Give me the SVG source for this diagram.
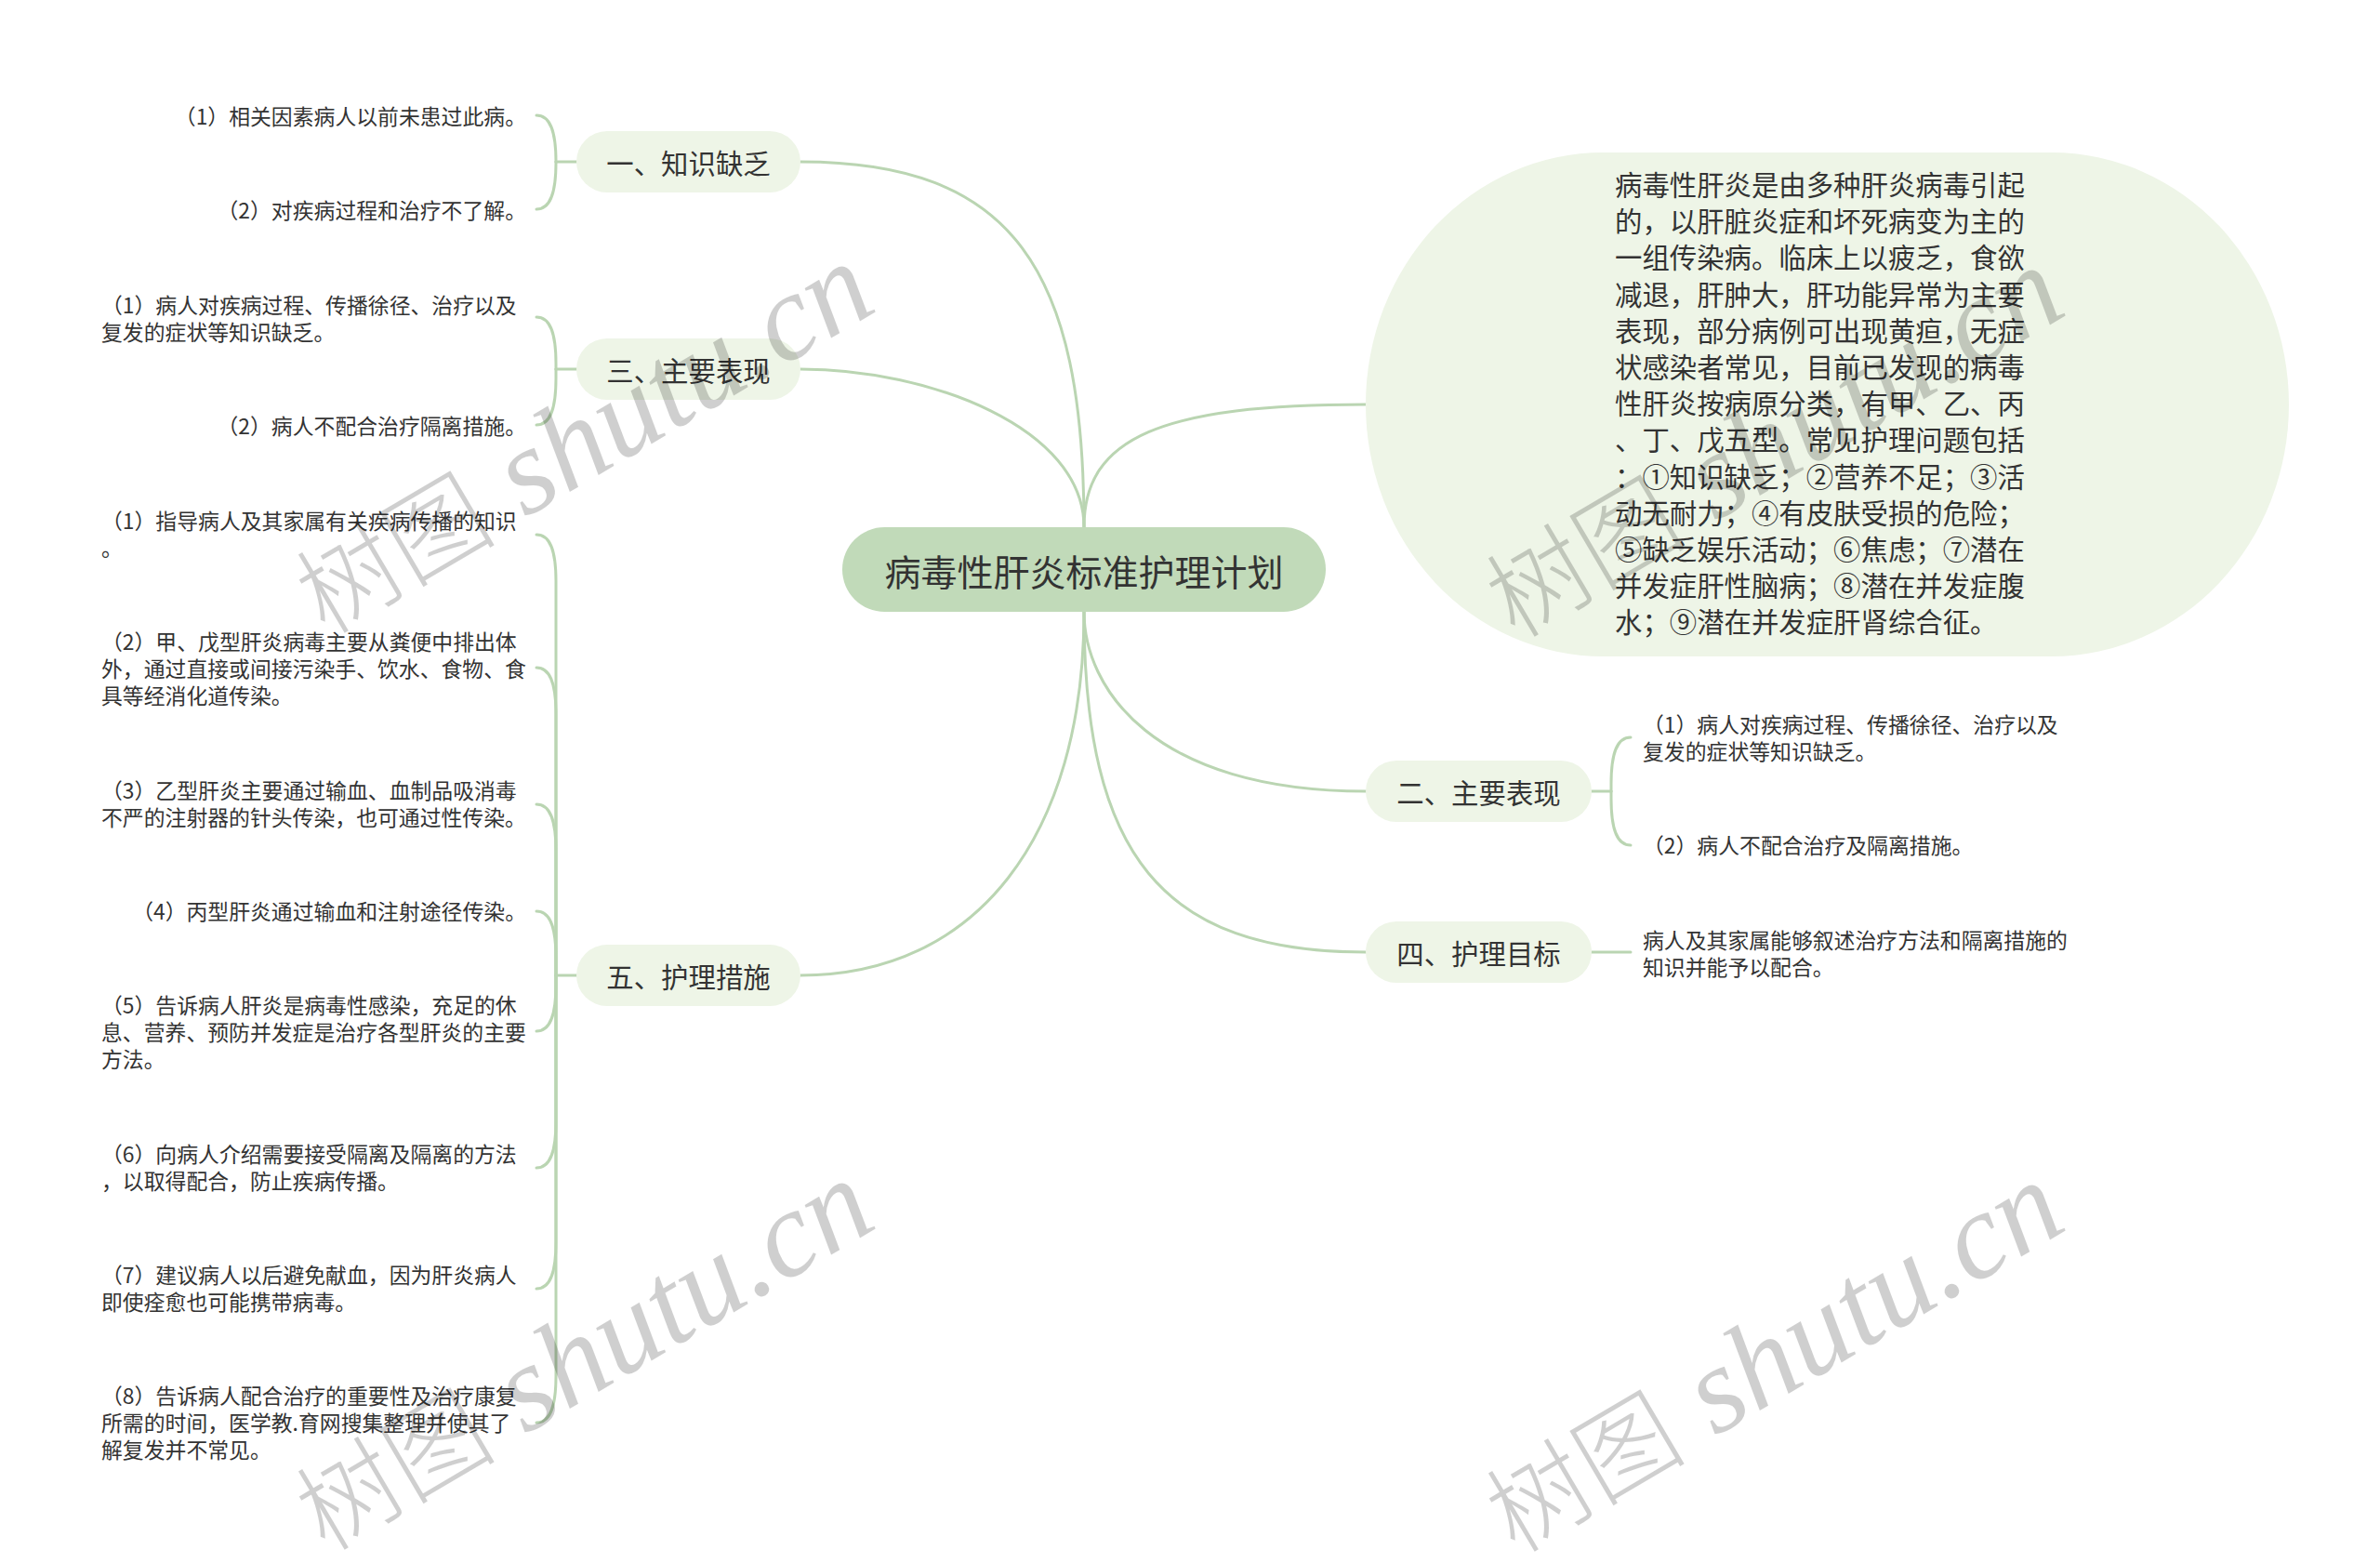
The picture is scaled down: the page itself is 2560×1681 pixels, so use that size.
<svg xmlns="http://www.w3.org/2000/svg" width="2560" height="1681" viewBox="0 0 2560 1681">
<style>
.bg{fill:#ffffff}
.conn path{fill:none;stroke:#bad5b2;stroke-width:3;stroke-linecap:round}
.root rect{fill:#c1dab9}
.l1 rect{fill:#eef5e7}
text{font-family:"Noto Sans CJK SC","Microsoft YaHei",sans-serif;fill:#333333;dominant-baseline:central}
.rt{font-size:39px;text-anchor:middle}
.lt{font-size:29.4px;text-anchor:middle}
.bt{font-size:29.4px}
.it{font-size:22.85px}
.end{text-anchor:end}
.wm text{fill:#000000;fill-opacity:0.19;dominant-baseline:alphabetic}
.wm .cj{font-family:"Noto Sans CJK SC",sans-serif;font-size:108px;font-weight:300}
.wm .en{font-family:"Liberation Serif",serif;font-style:italic;font-size:132px}
</style>
<rect class="bg" x="0" y="0" width="2560" height="1681"/>

<g id="connectors" class="conn">
  <path d="M1166 567 C1166 290 1090 174 861 174"/>
  <path d="M1166 567 C1166 460 1000 397 861 397"/>
  <path d="M1166 658 C1166 900 1050 1049 861 1049"/>
  <path d="M1166 567 C1166 470 1250 435 1469 435"/>
  <path d="M1166 658 C1166 740 1240 851 1469 851"/>
  <path d="M1166 658 C1166 920 1250 1024 1469 1024"/>
  <!-- 一 -->
  <path d="M620 174 L598 174"/>
  <path d="M598 174 C598 139 591 124 577 124"/>
  <path d="M598 174 L598 175 C598 210 591 225 577 225"/>
  <!-- 三 -->
  <path d="M620 397 L598 397"/>
  <path d="M598 397 L598 391 C598 356 591 341 577 341"/>
  <path d="M598 397 L598 407 C598 442 591 457 577 457"/>
  <!-- 五 -->
  <path d="M620 1049 L598 1049"/>
  <path d="M598 1049 L598 625 C598 590 591 575 577 575"/>
  <path d="M598 1049 L598 768 C598 733 591 718 577 718"/>
  <path d="M598 1049 L598 915 C598 880 591 865 577 865"/>
  <path d="M598 1049 L598 1030 C598 995 591 980 577 980"/>
  <path d="M598 1049 L598 1059 C598 1094 591 1109 577 1109"/>
  <path d="M598 1049 L598 1206 C598 1241 591 1256 577 1256"/>
  <path d="M598 1049 L598 1336 C598 1371 591 1386 577 1386"/>
  <path d="M598 1049 L598 1480 C598 1515 591 1530 577 1530"/>
  <!-- 二 -->
  <path d="M1712 851 L1733 851"/>
  <path d="M1733 851 L1733 843 C1733 808 1740 793 1754 793"/>
  <path d="M1733 851 L1733 859 C1733 894 1740 909 1754 909"/>
  <!-- 四 -->
  <path d="M1712 1024 L1754 1024"/>
</g>

<g id="root" class="root">
  <rect x="906" y="567" width="520" height="91" rx="45.5"/>
  <text class="rt" x="1166" y="612.5">病毒性肝炎标准护理计划</text>
</g>

<g id="n-intro" class="l1">
  <rect x="1469" y="164" width="993" height="542" rx="255" ry="271"/>
  <text class="bt">
    <tspan x="1737" y="197">病毒性肝炎是由多种肝炎病毒引起</tspan>
    <tspan x="1737" y="236.2">的，以肝脏炎症和坏死病变为主的</tspan>
    <tspan x="1737" y="275.4">一组传染病。临床上以疲乏，食欲</tspan>
    <tspan x="1737" y="314.6">减退，肝肿大，肝功能异常为主要</tspan>
    <tspan x="1737" y="353.8">表现，部分病例可出现黄疸，无症</tspan>
    <tspan x="1737" y="393">状感染者常见，目前已发现的病毒</tspan>
    <tspan x="1737" y="432.2">性肝炎按病原分类，有甲、乙、丙</tspan>
    <tspan x="1737" y="471.4">、丁、戊五型。常见护理问题包括</tspan>
    <tspan x="1737" y="510.6">：①知识缺乏；②营养不足；③活</tspan>
    <tspan x="1737" y="549.8">动无耐力；④有皮肤受损的危险；</tspan>
    <tspan x="1737" y="589">⑤缺乏娱乐活动；⑥焦虑；⑦潜在</tspan>
    <tspan x="1737" y="628.2">并发症肝性脑病；⑧潜在并发症腹</tspan>
    <tspan x="1737" y="667.4">水；⑨潜在并发症肝肾综合征。</tspan>
  </text>
</g>

<g id="n1" class="l1">
  <rect x="620" y="141" width="241" height="66" rx="33"/>
  <text class="lt" x="740.5" y="174">一、知识缺乏</text>
</g>
<g id="n1-1"><text class="it end" x="566" y="124">（1）相关因素病人以前未患过此病。</text></g>
<g id="n1-2"><text class="it end" x="566" y="225">（2）对疾病过程和治疗不了解。</text></g>

<g id="n3" class="l1">
  <rect x="620" y="364" width="241" height="66" rx="33"/>
  <text class="lt" x="740.5" y="397">三、主要表现</text>
</g>
<g id="n3-1"><text class="it"><tspan x="109" y="327">（1）病人对疾病过程、传播徐径、治疗以及</tspan><tspan x="109" y="356">复发的症状等知识缺乏。</tspan></text></g>
<g id="n3-2"><text class="it end" x="566" y="457">（2）病人不配合治疗隔离措施。</text></g>

<g id="n5" class="l1">
  <rect x="620" y="1016" width="241" height="66" rx="33"/>
  <text class="lt" x="740.5" y="1049">五、护理措施</text>
</g>
<g id="n5-1"><text class="it"><tspan x="109" y="559">（1）指导病人及其家属有关疾病传播的知识</tspan><tspan x="109" y="588">。</tspan></text></g>
<g id="n5-2"><text class="it"><tspan x="109" y="689">（2）甲、戊型肝炎病毒主要从粪便中排出体</tspan><tspan x="109" y="718">外，通过直接或间接污染手、饮水、食物、食</tspan><tspan x="109" y="747">具等经消化道传染。</tspan></text></g>
<g id="n5-3"><text class="it"><tspan x="109" y="849">（3）乙型肝炎主要通过输血、血制品吸消毒</tspan><tspan x="109" y="878">不严的注射器的针头传染，也可通过性传染。</tspan></text></g>
<g id="n5-4"><text class="it end" x="566" y="979">（4）丙型肝炎通过输血和注射途径传染。</text></g>
<g id="n5-5"><text class="it"><tspan x="109" y="1080">（5）告诉病人肝炎是病毒性感染，充足的休</tspan><tspan x="109" y="1109">息、营养、预防并发症是治疗各型肝炎的主要</tspan><tspan x="109" y="1138">方法。</tspan></text></g>
<g id="n5-6"><text class="it"><tspan x="109" y="1240">（6）向病人介绍需要接受隔离及隔离的方法</tspan><tspan x="109" y="1269">，以取得配合，防止疾病传播。</tspan></text></g>
<g id="n5-7"><text class="it"><tspan x="109" y="1370">（7）建议病人以后避免献血，因为肝炎病人</tspan><tspan x="109" y="1399">即使痊愈也可能携带病毒。</tspan></text></g>
<g id="n5-8"><text class="it"><tspan x="109" y="1500">（8）告诉病人配合治疗的重要性及治疗康复</tspan><tspan x="109" y="1529">所需的时间，医学教.育网搜集整理并使其了</tspan><tspan x="109" y="1558">解复发并不常见。</tspan></text></g>

<g id="n2" class="l1">
  <rect x="1469" y="818" width="243" height="66" rx="33"/>
  <text class="lt" x="1590.5" y="851">二、主要表现</text>
</g>
<g id="n2-1"><text class="it"><tspan x="1767" y="778">（1）病人对疾病过程、传播徐径、治疗以及</tspan><tspan x="1767" y="807">复发的症状等知识缺乏。</tspan></text></g>
<g id="n2-2"><text class="it" x="1767" y="908">（2）病人不配合治疗及隔离措施。</text></g>

<g id="n4" class="l1">
  <rect x="1469" y="991" width="243" height="66" rx="33"/>
  <text class="lt" x="1590.5" y="1024">四、护理目标</text>
</g>
<g id="n4-1"><text class="it"><tspan x="1767" y="1010">病人及其家属能够叙述治疗方法和隔离措施的</tspan><tspan x="1767" y="1039">知识并能予以配合。</tspan></text></g>

<g id="watermarks" class="wm">
  <text transform="translate(350,684) rotate(-30.5)"><tspan class="cj">树图</tspan><tspan class="en"> shutu.cn</tspan></text>
  <text transform="translate(350,1670) rotate(-30.5)"><tspan class="cj">树图</tspan><tspan class="en"> shutu.cn</tspan></text>
  <text transform="translate(1630,688) rotate(-30.5)"><tspan class="cj">树图</tspan><tspan class="en"> shutu.cn</tspan></text>
  <text transform="translate(1630,1672) rotate(-30.5)"><tspan class="cj">树图</tspan><tspan class="en"> shutu.cn</tspan></text>
</g>
</svg>
